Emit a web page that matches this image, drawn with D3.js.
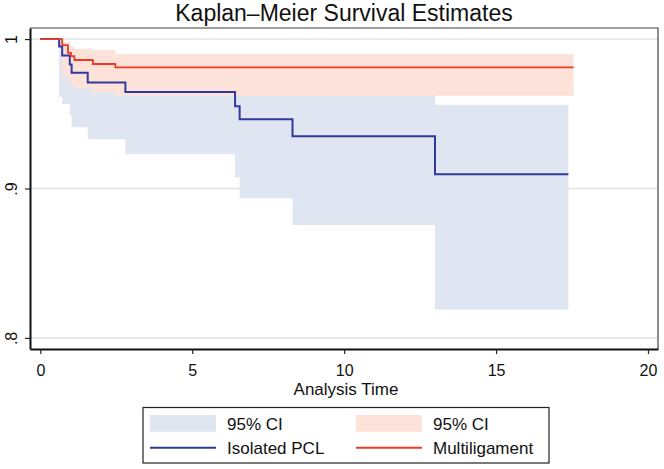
<!DOCTYPE html>
<html>
<head>
<meta charset="utf-8">
<script src="https://cdn.jsdelivr.net/npm/d3@7"></script>
<style>
  body { margin: 0; background: #fff; }
  text { font-family: "Liberation Sans", Arial, sans-serif; fill: #111; }
</style>
</head>
<body>
<script>
// Isolated PCL: step times, survival and 95% CI (last entry = end of follow-up)
let isoTime  = [0, 0.62, 0.72, 0.97, 1.03, 1.56, 2.80, 6.41, 6.56, 8.30, 12.99, 17.38];
let isoSurv  = [1, 0.995, 0.989, 0.983, 0.9775, 0.971, 0.9645, 0.955, 0.9463, 0.935, 0.9095, 0.9095];
let isoLower = [null, 0.9614, 0.9565, 0.949, 0.941, 0.933, 0.923, 0.9075, 0.8934, 0.8756, 0.819, 0.819];
let isoUpper = [null, 0.9995, 0.998, 0.996, 0.993, 0.99, 0.985, 0.9625, 0.9625, 0.9625, 0.956, 0.956];

// Multiligament
let mltTime  = [0, 0.72, 0.91, 1.01, 1.12, 1.73, 2.47, 17.55];
let mltSurv  = [1, 0.996, 0.9908, 0.9886, 0.986, 0.9833, 0.981, 0.981];
let mltLower = [null, 0.975, 0.972, 0.969, 0.967, 0.964, 0.962, 0.962];
let mltUpper = [null, 0.998, 0.996, 0.995, 0.9935, 0.9926, 0.990, 0.990];

let xTicks = [0, 5, 10, 15, 20];
let yTicks = [0.8, 0.9, 1];
let yTickLabels = [".8", ".9", "1"];

let width = 664,
    height = 469;

let blueLine = "#2e3a9c", redLine = "#ee3a24",
    blueBand = "#dfe5f1", redBand = "#fde2da";

let svg = d3.select("body").append("svg")
    .attr("width", width)
    .attr("height", height);

let x = d3.scaleLinear().domain([-0.34, 20.33]).range([30, 658]);
let y = d3.scaleLinear().domain([0.7926, 1.0074]).range([349, 28]);

function rows(t, s, lo, hi) {
    return t.map(function(d, i) { return {t: d, s: s[i], lo: lo[i], hi: hi[i]}; });
}
let iso = rows(isoTime, isoSurv, isoLower, isoUpper);
let mlt = rows(mltTime, mltSurv, mltLower, mltUpper);

// gridlines
svg.selectAll(".grid")
    .data(yTicks)
    .enter().append("line")
    .attr("x1", x.range()[0]).attr("x2", x.range()[1])
    .attr("y1", function(d) { return y(d); })
    .attr("y2", function(d) { return y(d); })
    .attr("stroke", "#e2e2e2")
    .attr("stroke-width", 1.5);

let band = d3.area()
    .curve(d3.curveStepAfter)
    .x(function(d) { return x(d.t); })
    .y0(function(d) { return y(d.lo); })
    .y1(function(d) { return y(d.hi); });

let step = d3.line()
    .curve(d3.curveStepAfter)
    .x(function(d) { return x(d.t); })
    .y(function(d) { return y(d.s); });

svg.append("path").attr("d", band(iso.slice(1))).attr("fill", blueBand);
svg.append("path").attr("d", band(mlt.slice(1))).attr("fill", redBand);

svg.append("path").attr("d", step(iso))
    .attr("fill", "none").attr("stroke", blueLine).attr("stroke-width", 2);
svg.append("path").attr("d", step(mlt))
    .attr("fill", "none").attr("stroke", redLine).attr("stroke-width", 1.8);

// frame
svg.append("path")
    .attr("d", "M30,28H658V349")
    .attr("fill", "none").attr("stroke", "#444").attr("stroke-width", 1.2);

let xAxis = svg.append("g")
    .attr("transform", "translate(0,349)")
    .call(d3.axisBottom(x).tickValues(xTicks).tickSize(5).tickPadding(11).tickSizeOuter(0));
xAxis.select(".domain").attr("stroke", "#111").attr("stroke-width", 2);
xAxis.selectAll("text").style("font-size", "16px").attr("dy", 0).attr("y", 27);
xAxis.selectAll("line").attr("stroke", "#222").attr("stroke-width", 1.2);

let yAxis = svg.append("g")
    .attr("transform", "translate(30,0)")
    .call(d3.axisLeft(y).tickValues(yTicks).tickSize(5).tickSizeOuter(0)
        .tickFormat(function(d, i) { return yTickLabels[i]; }));
yAxis.select(".domain").attr("stroke", "#111").attr("stroke-width", 2);
yAxis.selectAll("line").attr("stroke", "#222").attr("stroke-width", 1.2);
yAxis.selectAll("text")
    .style("font-size", "16px")
    .attr("x", null).attr("dy", null)
    .attr("text-anchor", "middle")
    .attr("transform", "translate(-13,0) rotate(-90)");

svg.append("text")
    .attr("x", 344).attr("y", 20.5)
    .attr("text-anchor", "middle")
    .style("font-size", "23px")
    .text("Kaplan\u2013Meier Survival Estimates");

svg.append("text")
    .attr("x", 346).attr("y", 394.5)
    .attr("text-anchor", "middle")
    .style("font-size", "17px")
    .text("Analysis Time");

// legend
let legend = svg.append("g");
legend.append("rect")
    .attr("x", 143).attr("y", 407.5).attr("width", 406).attr("height", 55.5)
    .attr("fill", "#fff").attr("stroke", "#222").attr("stroke-width", 1.2);

let legendItems = [
    {col: 0, row: 0, kind: "band", color: blueBand, label: "95% CI"},
    {col: 1, row: 0, kind: "band", color: redBand, label: "95% CI"},
    {col: 0, row: 1, kind: "line", color: blueLine, label: "Isolated PCL"},
    {col: 1, row: 1, kind: "line", color: redLine, label: "Multiligament"}
];

let item = legend.selectAll(".item")
    .data(legendItems)
    .enter().append("g")
    .attr("transform", function(d) { return "translate(" + (150 + d.col * 206) + "," + (415 + d.row * 32.7) + ")"; });

item.filter(function(d) { return d.kind == "band"; })
    .append("rect")
    .attr("width", 66).attr("height", 16.7)
    .attr("fill", function(d) { return d.color; });

item.filter(function(d) { return d.kind == "line"; })
    .append("line")
    .attr("x1", 0).attr("x2", 66).attr("y1", 0).attr("y2", 0)
    .attr("stroke", function(d) { return d.color; })
    .attr("stroke-width", 2);

item.append("text")
    .attr("x", 77)
    .attr("y", function(d) { return d.row == 0 ? 15 : 6; })
    .style("font-size", "17px")
    .text(function(d) { return d.label; });
</script>
</body>
</html>
